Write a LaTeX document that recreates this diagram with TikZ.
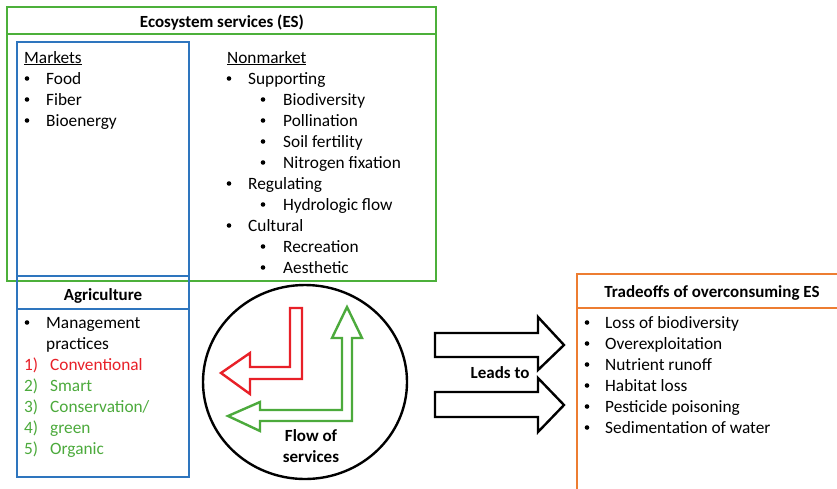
\documentclass[tikz,border=0pt]{standalone}
\usepackage{fontspec}
\setmainfont{Carlito}
\definecolor{esgreen}{RGB}{76,176,58}
\definecolor{agblue}{RGB}{46,117,190}
\definecolor{tdorange}{RGB}{237,125,49}
\definecolor{arred}{RGB}{232,32,40}
\definecolor{txgreen}{RGB}{76,170,60}
\tikzset{
  txt/.style={anchor=base west, inner sep=0pt, font=\fontsize{17.3}{20}\selectfont},
  ttl/.style={anchor=base, inner sep=0pt, font=\fontsize{17}{20}\selectfont\bfseries},
  frame/.style={line width=2.6pt},
  dot/.style={circle, fill=black, inner sep=0pt, minimum size=4.6pt},
}
\begin{document}
\begin{tikzpicture}[x=1pt,y=-1pt]
\useasboundingbox (0,0) rectangle (837,488);
\fill[white] (0,0) rectangle (837,488);
% ES box
\draw[frame,esgreen] (7,7) rectangle (436,281);
\draw[frame,esgreen] (7,34) -- (436,34);
\node[ttl] (estitle) at (222,27) {Ecosystem services (ES)};
% markets box
\draw[frame,agblue] (17,42) rectangle (189,276);
\node[txt] (mk) at (24,63) {\underline{Markets}};
\foreach \y/\t in {84/Food,105/Fiber,126/Bioenergy}{
  \node[dot] at (27,\y-5.5) {};
  \node[txt] at (46,\y) {\t};
}
% nonmarket
\node[txt] (nm) at (227,63) {\underline{Nonmarket}};
\foreach \y/\t in {84/Supporting,189/Regulating,231/Cultural}{
  \node[dot] at (229,\y-5.5) {};
  \node[txt] at (248,\y) {\t};
}
\foreach \y/\t in {105/Biodiversity,126/Pollination,147/Soil fertility,168/Nitrogen fixation,210/Hydrologic flow,252/Recreation,273/Aesthetic}{
  \node[dot] at (263,\y-5.5) {};
  \node[txt] at (283,\y) {\t};
}
% agriculture box
\draw[frame,agblue] (17,276) rectangle (189,477);
\draw[frame,agblue] (17,309) -- (189,309);
\node[ttl] (agtitle) at (103,300) {Agriculture};
\node[dot] at (27,322.5) {};
\node[txt] at (46,328) {Management};
\node[txt] at (46,349) {practices};
\node[txt,arred] at (24,370) {1)};
\node[txt,arred] at (50,370) {Conventional};
\foreach \y/\n/\t in {391/2/{Smart},412/3/{Conservation/},433/4/{green},454/5/{Organic}}{
  \node[txt,txgreen] at (24,\y) {\n)};
  \node[txt,txgreen] at (50,\y) {\t};
}
% flow circle
\draw[line width=2.4pt] (305,382) ellipse [x radius=102, y radius=97];
\draw[line width=2.4pt,arred,line join=miter]
  (221,373) -- (250,353) -- (250,367) -- (290,367) -- (290,308) -- (302,308)
  -- (302,379) -- (250,379) -- (250,394) -- cycle;
\draw[line width=2.4pt,txgreen,line join=miter]
  (228,416) -- (260,402) -- (260,410) -- (342,410) -- (342,338) -- (332,338)
  -- (347,307) -- (362,338) -- (352,338) -- (352,421) -- (260,421) -- (260,431) -- cycle;
\node[ttl] (flow1) at (311,441) {Flow of};
\node[ttl] (flow2) at (311,462) {services};
% black arrows
\draw[line width=2.4pt,line join=miter]
  (435,333) -- (538,333) -- (538,317) -- (564,345) -- (538,370) -- (538,357) -- (435,357) -- cycle;
\draw[line width=2.4pt,line join=miter]
  (435,392) -- (538,392) -- (538,378) -- (564,405) -- (538,432) -- (538,417) -- (435,417) -- cycle;
\node[ttl] (leads) at (500,378) {Leads to};
% tradeoffs box
\begin{scope}
\clip (0,0) rectangle (837,488);
\draw[frame,tdorange] (577,274) rectangle (850,500);
\draw[frame,tdorange] (577,308) -- (850,308);
\end{scope}
\node[ttl] (tdtitle) at (712,297) {Tradeoffs of overconsuming ES};
\foreach \y/\t in {328/Loss of biodiversity,349/Overexploitation,370/Nutrient runoff,391/Habitat loss,412/Pesticide poisoning,433/Sedimentation of water}{
  \node[dot] at (587,\y-5.5) {};
  \node[txt] at (605,\y) {\t};
}
\end{tikzpicture}
\end{document}
